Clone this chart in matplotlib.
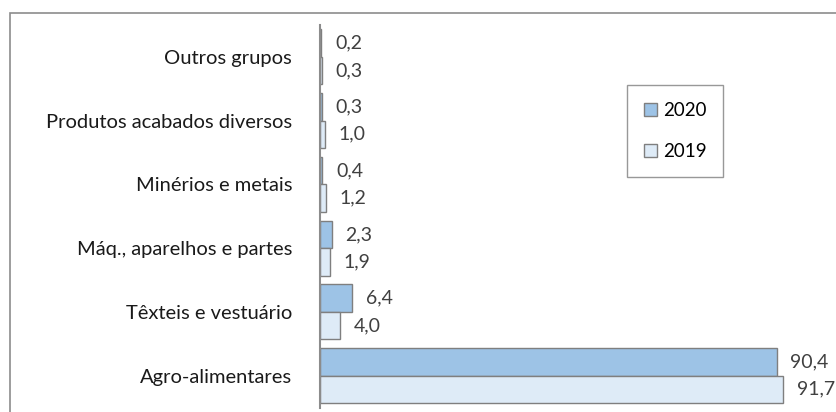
import matplotlib
matplotlib.use("Agg")
import matplotlib.pyplot as plt
from matplotlib.patches import Rectangle

categories = ["Agro-alimentares", "Têxteis e vestuário", "Máq., aparelhos e partes",
              "Minérios e metais", "Produtos acabados diversos", "Outros grupos"]
values_2020 = [90.4, 6.4, 2.3, 0.4, 0.3, 0.2]
values_2019 = [91.7, 4.0, 1.9, 1.2, 1.0, 0.3]
series_labels = ["2020", "2019"]

plt.rcParams['font.family'] = ['Lato', 'DejaVu Sans']

fig = plt.figure(figsize=(8.36, 4.12), dpi=100)
ax = fig.add_axes([320/836, (412-407.5)/412, (825-320)/836, (407.5-25)/412])

h = 0.43
ys = list(range(len(categories)))
edge = '#7f7f7f'
b20 = ax.barh([y + h/2 for y in ys], values_2020, height=h, color='#9dc3e6',
              edgecolor=edge, linewidth=1.0, label=series_labels[0])
b19 = ax.barh([y - h/2 for y in ys], values_2019, height=h, color='#deebf7',
              edgecolor=edge, linewidth=1.0, label=series_labels[1])

def fmt(v):
    return f"{v:.1f}".replace('.', ',')

for bars, vals in ((b20, values_2020), (b19, values_2019)):
    ax.bar_label(bars, labels=[fmt(v) for v in vals], padding=10,
                 color='#404040', fontsize=14)

ax.set_xlim(0, 100)
ax.set_ylim(-0.5, len(categories) - 0.5)
ax.set_yticks(ys)
ax.set_yticklabels(categories, fontsize=14.5, color='#1a1a1a')
ax.tick_params(axis='y', length=0, pad=20)
ax.set_xticks([])
for s in ('top', 'right', 'bottom'):
    ax.spines[s].set_visible(False)
ax.spines['left'].set_color('#8c8c8c')
ax.spines['left'].set_linewidth(1.5)

leg = ax.legend(handles=[b20, b19], loc='upper left',
                bbox_to_anchor=((627-320)/505, (407.5-85)/382.5),
                frameon=True, fancybox=False, fontsize=13.5,
                handlelength=0.7, handleheight=0.7, labelspacing=1.3,
                borderpad=0.9, handletextpad=0.3, borderaxespad=0)
leg.get_frame().set_edgecolor('#7f7f7f')
leg.get_frame().set_linewidth(1.0)

frame = Rectangle((9.5/836, -0.1), 1.2, (412-12.5)/412 + 0.1,
                  transform=fig.transFigure, fill=False,
                  edgecolor='#8c8c8c', linewidth=1.2, clip_on=False)
fig.patches.append(frame)

fig.savefig("out.png", dpi=100)
